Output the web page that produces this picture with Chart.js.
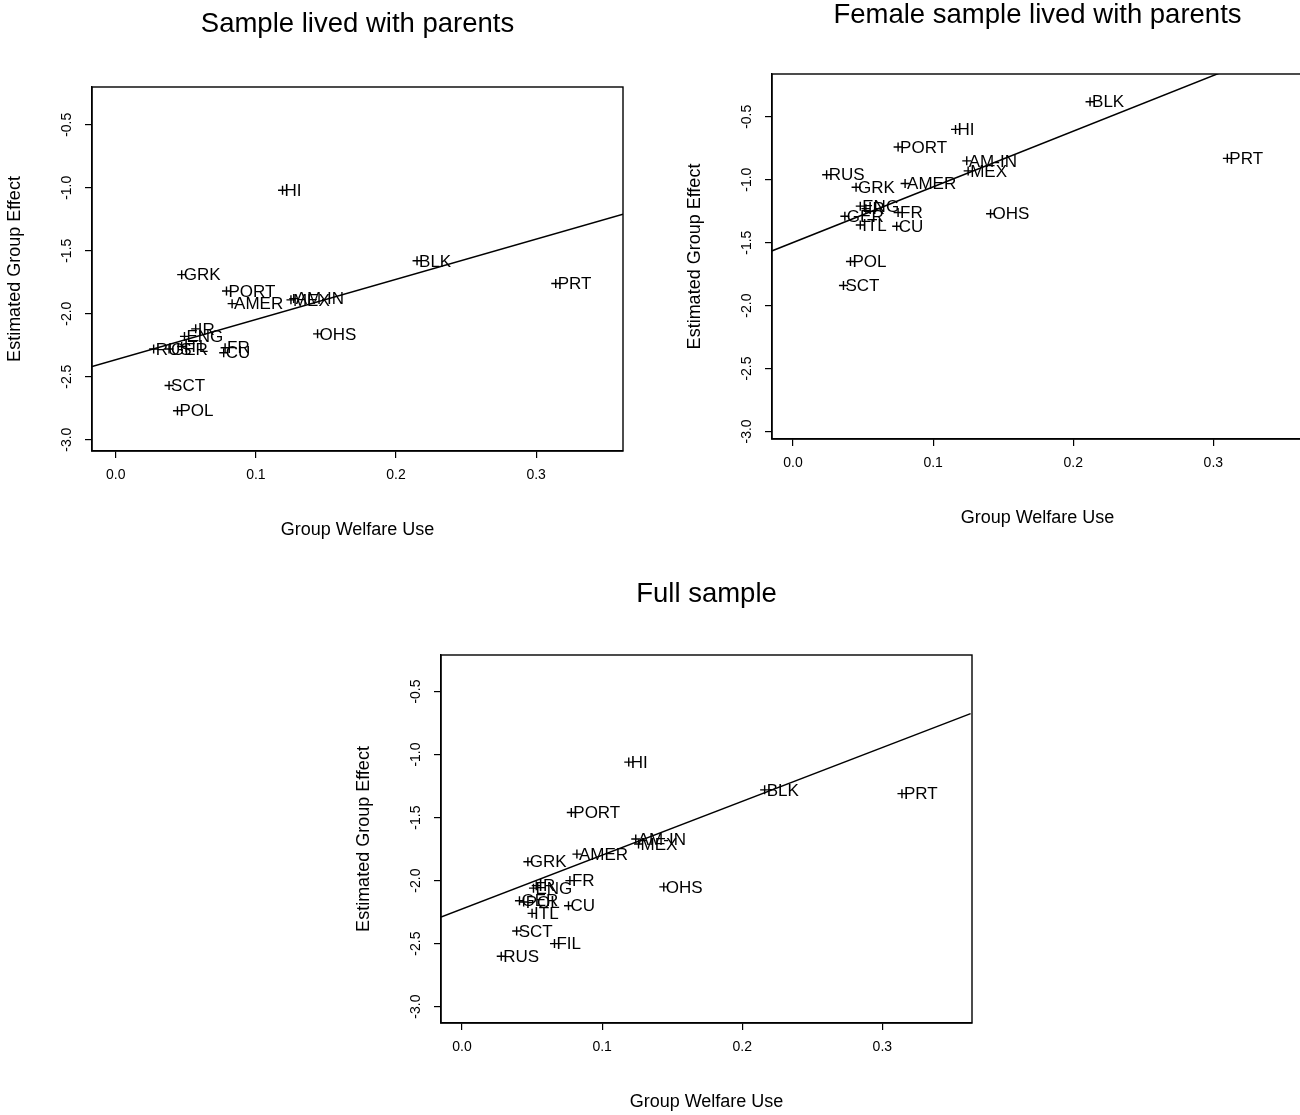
<!DOCTYPE html>
<html>
<head>
<meta charset="utf-8">
<title>Group effect vs group welfare use</title>
<script src="https://cdn.jsdelivr.net/npm/chart.js@4.4.1/dist/chart.umd.min.js"></script>
<style>
  html, body { margin: 0; padding: 0; background: #fff; overflow: hidden; }
  body { width: 1300px; height: 1115px; position: relative; }
  canvas { position: absolute; }
</style>
</head>
<body>
<canvas id="c1" width="660" height="560" style="left:0px;top:0px"></canvas>
<canvas id="c2" width="640" height="560" style="left:680px;top:0px"></canvas>
<canvas id="c3" width="650" height="555" style="left:349px;top:560px"></canvas>
<script>
// ===== Data =====
const xTicks = [0.0, 0.1, 0.2, 0.3];
const yTicks = [-3.0, -2.5, -2.0, -1.5, -1.0, -0.5];

// Sample lived with parents
const p1Names = ['HI','BLK','PRT','GRK','PORT','AMER','MEX','AM-IN','OHS','IR','ENG','RUS','GER','ITL','FR','CU','SCT','POL'];
const p1X = [0.119, 0.215, 0.314, 0.047, 0.079, 0.083, 0.125, 0.127, 0.144, 0.057, 0.049, 0.027, 0.038, 0.047, 0.078, 0.077, 0.038, 0.044];
const p1Y = [-1.02, -1.58, -1.76, -1.69, -1.82, -1.92, -1.89, -1.88, -2.16, -2.12, -2.18, -2.28, -2.28, -2.26, -2.27, -2.31, -2.57, -2.77];
const p1LineX = [-0.017, 0.362];
const p1LineY = [-2.42, -1.21];

// Female sample lived with parents
const p2Names = ['BLK','HI','PORT','AM-IN','MEX','PRT','RUS','GRK','AMER','ENG','IR','GER','FR','ITL','CU','OHS','POL','SCT'];
const p2X = [0.212, 0.116, 0.075, 0.124, 0.125, 0.310, 0.024, 0.045, 0.080, 0.048, 0.052, 0.037, 0.075, 0.048, 0.074, 0.141, 0.041, 0.036];
const p2Y = [-0.38, -0.60, -0.74, -0.85, -0.93, -0.83, -0.96, -1.06, -1.03, -1.21, -1.23, -1.29, -1.26, -1.36, -1.37, -1.27, -1.65, -1.84];
const p2LineX = [-0.016, 0.305];
const p2LineY = [-1.57, -0.15];

// Full sample
const p3Names = ['HI','BLK','PRT','PORT','AM-IN','MEX','AMER','GRK','FR','OHS','ENG','IR','GER','POL','ITL','CU','SCT','FIL','RUS'];
const p3X = [0.119, 0.216, 0.314, 0.078, 0.124, 0.126, 0.082, 0.047, 0.077, 0.144, 0.051, 0.053, 0.041, 0.044, 0.050, 0.076, 0.039, 0.066, 0.028];
const p3Y = [-1.06, -1.28, -1.31, -1.46, -1.67, -1.71, -1.79, -1.85, -2.00, -2.05, -2.06, -2.04, -2.16, -2.17, -2.26, -2.20, -2.40, -2.50, -2.60];
const p3LineX = [-0.015, 0.363];
const p3LineY = [-2.29, -0.675];

// ===== Panel layout =====
const FONT = '"Liberation Sans", Arial, Helvetica, sans-serif';
const panels = [
  {id:'c1', title:'Sample lived with parents', xMin:-0.017, xMax:0.362, yMin:-3.09, yMax:-0.2, padR:37, padB:19, titleH:87, titleTop:10.5},
  {id:'c2', title:'Female sample lived with parents', xMin:-0.015, xMax:0.364, yMin:-3.06, yMax:-0.16, padR:17, padB:31, titleH:74, titleTop:1.5},
  {id:'c3', title:'Full sample', xMin:-0.015, xMax:0.364, yMin:-3.13, yMax:-0.21, padR:27, padB:2, titleH:95, titleTop:20.5}
];
const TITLE_SIZE = 27.5;

// frame around plot region
const boxPlugin = {
  id: 'plotBox',
  afterDraw(chart){
    const a = chart.chartArea, ctx = chart.ctx;
    ctx.save();
    ctx.strokeStyle = '#000';
    ctx.lineWidth = 1.4;
    ctx.strokeRect(a.left, a.top, a.right - a.left, a.bottom - a.top);
    ctx.restore();
  }
};

// group names written to the right of each point
const labelPlugin = {
  id: 'pointLabels',
  afterDatasetsDraw(chart, args, opts){
    const meta = chart.getDatasetMeta(1);
    const ctx = chart.ctx;
    ctx.save();
    ctx.font = '17px ' + FONT;
    ctx.fillStyle = '#000';
    ctx.textBaseline = 'middle';
    ctx.textAlign = 'left';
    meta.data.forEach((pt, i) => ctx.fillText(opts.names[i], pt.x + 2, pt.y + 1));
    ctx.restore();
  }
};

function makeChart(p, names, xs, ys, lx, ly){
  const pts = xs.map((x, i) => ({x: x, y: ys[i]}));
  const fit = lx.map((x, i) => ({x: x, y: ly[i]}));
  return new Chart(document.getElementById(p.id), {
    type: 'scatter',
    data: {
      datasets: [
        {type:'line', data:fit, borderColor:'#000', borderWidth:1.5, pointRadius:0, fill:false, tension:0},
        {data:pts, pointStyle:'cross', pointRadius:4.5, borderColor:'#000', backgroundColor:'#000', borderWidth:1.4}
      ]
    },
    options: {
      responsive: false,
      animation: false,
      events: [],
      layout: {autoPadding:false, padding:{left:0, top:0, right:p.padR, bottom:p.padB}},
      plugins: {
        legend: {display:false},
        tooltip: {enabled:false},
        title: {
          display: true, text: p.title, fullSize: false, color: '#000',
          font: {family:FONT, size:TITLE_SIZE, weight:'normal', lineHeight:1.0},
          padding: {top:p.titleTop, bottom:p.titleH - p.titleTop - TITLE_SIZE}
        },
        pointLabels: {names: names}
      },
      scales: {
        x: {
          type: 'linear', min: p.xMin, max: p.xMax,
          afterBuildTicks: s => { s.ticks = xTicks.map(v => ({value: v})); },
          afterFit: s => { s.height = 90; },
          grid: {display:true, drawOnChartArea:false, drawTicks:true, tickLength:7, color:'#000', lineWidth:1.2},
          border: {display:true, color:'#000', width:1.4},
          ticks: {color:'#000', font:{family:FONT, size:14}, padding:9, maxRotation:0, callback: v => v.toFixed(1)},
          title: {display:true, text:'Group Welfare Use', color:'#000', font:{family:FONT, size:18}, padding:{top:0, bottom:0}}
        },
        y: {
          type: 'linear', min: p.yMin, max: p.yMax,
          afterBuildTicks: s => { s.ticks = yTicks.map(v => ({value: v})); },
          afterFit: s => { s.width = 92; },
          grid: {display:true, drawOnChartArea:false, drawTicks:true, tickLength:7, color:'#000', lineWidth:1.2},
          border: {display:true, color:'#000', width:1.4},
          ticks: {color:'#000', font:{family:FONT, size:14}, padding:6, minRotation:90, maxRotation:90, crossAlign:'center', callback: v => v.toFixed(1)},
          title: {display:true, text:'Estimated Group Effect', color:'#000', font:{family:FONT, size:18}, padding:{top:4, bottom:0}}
        }
      }
    },
    plugins: [boxPlugin, labelPlugin]
  });
}

makeChart(panels[0], p1Names, p1X, p1Y, p1LineX, p1LineY);
makeChart(panels[1], p2Names, p2X, p2Y, p2LineX, p2LineY);
makeChart(panels[2], p3Names, p3X, p3Y, p3LineX, p3LineY);
</script>
</body>
</html>
